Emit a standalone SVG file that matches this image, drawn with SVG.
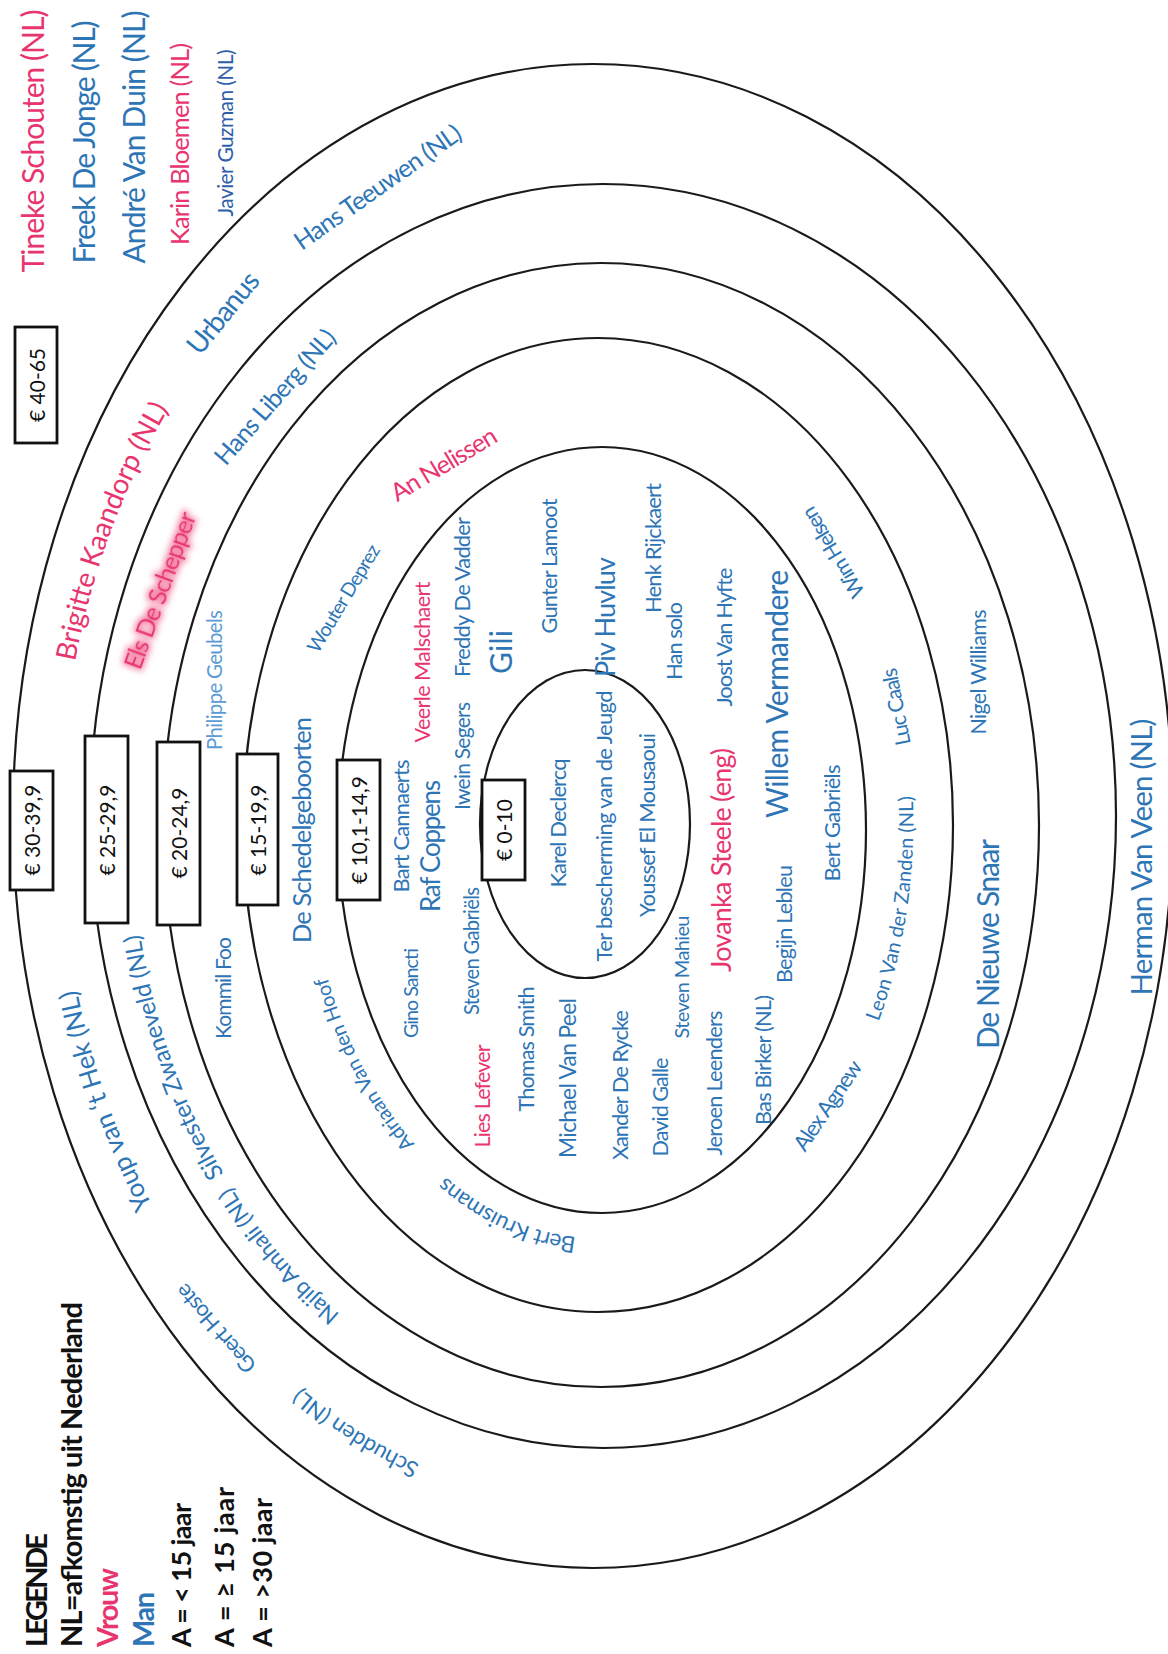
<svg xmlns="http://www.w3.org/2000/svg" width="1168" height="1654" viewBox="0 0 1168 1654">
<defs>
<style>
text{font-family:Lato,'Liberation Sans',sans-serif;text-anchor:middle;dominant-baseline:central}
.b{fill:#2e75b6}
.d{fill:#2f5ea8}
.l{fill:#5b9bd5}
.p{fill:#e8356f}
.k{fill:#111}
.lg{text-anchor:start;dominant-baseline:auto;font-weight:bold}
.ring{fill:none;stroke:#1a1a1a;stroke-width:2.2}
.box{fill:#fff;stroke:#111;stroke-width:2.8}
</style>
<filter id="glow" x="-30%" y="-40%" width="160%" height="180%">
<feMorphology in="SourceAlpha" operator="dilate" radius="1.5" result="d"/>
<feGaussianBlur in="d" stdDeviation="3" result="bl"/>
<feFlood flood-color="#f47aa0" flood-opacity="0.9"/>
<feComposite in2="bl" operator="in" result="g"/>
<feMerge><feMergeNode in="g"/><feMergeNode in="SourceGraphic"/></feMerge>
</filter>
<path id="pYoup" d="M 167.6 1251.6 A 549.5 696.3 0 0 1 59.0 944.2"/>
<path id="pSilv" d="M 255.8 1239.2 A 478.2 601.1 0 0 1 122.9 863.4"/>
<path id="pBrig" d="M 53.8 732.1 A 550.8 697.9 0 0 1 199.8 342.5"/>
<path id="pAdri" d="M 444.0 1184.1 A 302.0 422.9 0 0 1 308.1 930.7"/>
<path id="pLeon" d="M 852.6 1062.4 A 305.4 427.6 0 0 0 900.9 749.2"/>
<path id="pNaj" d="M 386.1 1359.1 A 477.8 600.6 0 0 1 192.2 1134.9"/>
<path id="pBert" d="M 622.8 1246.4 A 304.0 425.6 0 0 1 405.8 1149.5"/>
<path id="pSchu" d="M 481.0 1496.3 A 545.4 691.0 0 0 1 245.1 1346.7"/>
</defs>
<rect width="1168" height="1654" fill="#fff"/>

<g id="rings">
<ellipse class="ring" cx="585" cy="824" rx="105" ry="154"/>
<ellipse class="ring" cx="602" cy="830" rx="264" ry="383"/>
<ellipse class="ring" cx="598" cy="825" rx="355" ry="487"/>
<ellipse class="ring" cx="601" cy="825" rx="438" ry="562"/>
<ellipse class="ring" cx="603" cy="816" rx="513" ry="632"/>
<ellipse class="ring" cx="593" cy="816" rx="580" ry="752"/>
</g>

<g id="price-boxes">
<g id="box-40-65"><rect class="box" x="15" y="327" width="42" height="116"/><text class="k" font-size="21" transform="translate(36 385) rotate(-90)">€ 40-65</text></g>
<g id="box-30-39"><rect class="box" x="10" y="771" width="43" height="119"/><text class="k" font-size="21" transform="translate(31.5 830) rotate(-90)">€ 30-39,9</text></g>
<g id="box-25-29"><rect class="box" x="85" y="736" width="43" height="187"/><text class="k" font-size="21" transform="translate(106.5 830) rotate(-90)">€ 25-29,9</text></g>
<g id="box-20-24"><rect class="box" x="157" y="742" width="43" height="183"/><text class="k" font-size="21" transform="translate(178.5 833) rotate(-90)">€ 20-24,9</text></g>
<g id="box-15-19"><rect class="box" x="237" y="754" width="41" height="151"/><text class="k" font-size="21" transform="translate(257.5 830) rotate(-90)">€ 15-19,9</text></g>
<g id="box-10-14"><rect class="box" x="337" y="760" width="43" height="140"/><text class="k" font-size="21" transform="translate(358.5 830) rotate(-90)">€ 10,1-14,9</text></g>
<g id="box-0-10"><rect class="box" x="482" y="780" width="43" height="100"/><text class="k" font-size="21" transform="translate(503.5 830) rotate(-90)">€ 0-10</text></g>
</g>

<g id="outside">
<text class="p" font-size="30" textLength="263" transform="translate(32 141) rotate(-90)">Tineke Schouten (NL)</text>
<text class="b" font-size="30" textLength="243" transform="translate(83 142) rotate(-90)">Freek De Jonge (NL)</text>
<text class="b" font-size="30" textLength="253" transform="translate(133 137) rotate(-90)">André Van Duin (NL)</text>
<text class="p" font-size="25.5" textLength="202" transform="translate(179 144) rotate(-90)">Karin Bloemen (NL)</text>
<text class="d" font-size="21" textLength="167" transform="translate(224 133) rotate(-90)">Javier Guzman (NL)</text>
</g>

<g id="ring-30-39">
<text class="p" font-size="28"><textPath href="#pBrig" startOffset="50%">Brigitte Kaandorp (NL)</textPath></text>
<text class="b" font-size="28" textLength="97" transform="translate(222 312) rotate(-51)">Urbanus</text>
<text class="b" font-size="25" textLength="198" transform="translate(377 186) rotate(-35)">Hans Teeuwen (NL)</text>
<text class="b" font-size="26"><textPath href="#pYoup" startOffset="50%">Youp van ‘t Hek (NL)</textPath></text>
<text class="b" font-size="22" textLength="110" transform="translate(215 1329) rotate(-131)">Geert Hoste</text>
<text class="b" font-size="22.5"><textPath href="#pSchu" startOffset="50%">Schudden (NL)</textPath></text>
<text class="b" font-size="29.5" textLength="277" transform="translate(1140 857) rotate(-90)">Herman Van Veen (NL)</text>
</g>

<g id="ring-25-29">
<text class="p" font-size="25" textLength="165" filter="url(#glow)" transform="translate(159 590) rotate(-70)">Els De Schepper</text>
<text class="b" font-size="25" textLength="170" transform="translate(274 396) rotate(-49)">Hans Liberg (NL)</text>
<text class="b" font-size="24"><textPath href="#pSilv" startOffset="50%">Silvester Zwaneveld (NL)</textPath></text>
<text class="b" font-size="22.5"><textPath href="#pNaj" startOffset="50%">Najib Amhali (NL)</textPath></text>
</g>

<g id="ring-20-24">
<text class="l" font-size="20.5" textLength="140" transform="translate(214 680) rotate(-90)">Philippe Geubels</text>
<text class="b" font-size="21" textLength="102" transform="translate(222 988) rotate(-90)">Kommil Foo</text>
<text class="b" font-size="21.5" textLength="125" transform="translate(978 672) rotate(-90)">Nigel Williams</text>
<text class="b" font-size="30" textLength="210" transform="translate(987 944) rotate(-90)">De Nieuwe Snaar</text>
</g>

<g id="ring-15-19">
<text class="b" font-size="25.5" textLength="226" transform="translate(301 830) rotate(-90)">De Schedelgeboorten</text>
<text class="b" font-size="19.6" textLength="122" transform="translate(343 598) rotate(-59)">Wouter Deprez</text>
<text class="p" font-size="25" textLength="119" transform="translate(443 463) rotate(-31)">An Nelissen</text>
<text class="b" font-size="20"><textPath href="#pAdri" startOffset="50%">Adriaan Van den Hoof</textPath></text>
<text class="b" font-size="22.5"><textPath href="#pBert" startOffset="50%">Bert Kruismans</textPath></text>
<text class="b" font-size="20"><textPath href="#pLeon" startOffset="50%">Leon Van der Zanden (NL)</textPath></text>
<text class="b" font-size="22" textLength="104" transform="translate(827 1105) rotate(-56)">Alex Agnew</text>
<text class="b" font-size="21" textLength="78" transform="translate(895 707) rotate(-101)">Luc Caals</text>
<text class="b" font-size="21" textLength="102" transform="translate(832 553) rotate(-121)">Wim Helsen</text>
</g>

<g id="ring-10-14">
<text class="b" font-size="22" textLength="133" transform="translate(400 826) rotate(-90)">Bart Cannaerts</text>
<text class="b" font-size="26" textLength="132" transform="translate(430 846) rotate(-90)">Raf Coppens</text>
<text class="b" font-size="21" textLength="108" transform="translate(461 756) rotate(-90)">Iwein Segers</text>
<text class="b" font-size="20.2" textLength="128" transform="translate(471 951) rotate(-90)">Steven Gabriëls</text>
<text class="b" font-size="19.6" textLength="90" transform="translate(410 993) rotate(-90)">Gino Sancti</text>
<text class="p" font-size="21.5" textLength="103" transform="translate(482 1096) rotate(-90)">Lies Lefever</text>
<text class="b" font-size="21.6" textLength="125" transform="translate(526 1049) rotate(-90)">Thomas Smith</text>
<text class="b" font-size="22.8" textLength="160" transform="translate(567 1078) rotate(-90)">Michael Van Peel</text>
<text class="b" font-size="22" textLength="150" transform="translate(619 1085) rotate(-90)">Xander De Rycke</text>
<text class="b" font-size="21.6" textLength="99" transform="translate(660 1107) rotate(-90)">David Galle</text>
<text class="b" font-size="20" textLength="123" transform="translate(681 977) rotate(-90)">Steven Mahieu</text>
<text class="b" font-size="21.8" textLength="145" transform="translate(713 1083) rotate(-90)">Jeroen Leenders</text>
<text class="p" font-size="27" textLength="224" transform="translate(720 860) rotate(-90)">Jovanka Steele (eng)</text>
<text class="b" font-size="21.8" textLength="130" transform="translate(762 1060) rotate(-90)">Bas Birker (NL)</text>
<text class="b" font-size="21.7" textLength="118" transform="translate(784 924) rotate(-90)">Begijn Lebleu</text>
<text class="b" font-size="22" textLength="117" transform="translate(831 823) rotate(-90)">Bert Gabriëls</text>
<text class="b" font-size="30" textLength="248" transform="translate(776 694) rotate(-90)">Willem Vermandere</text>
<text class="b" font-size="22" textLength="139" transform="translate(723 637) rotate(-90)">Joost Van Hyfte</text>
<text class="b" font-size="22" textLength="78" transform="translate(673 641) rotate(-90)">Han solo</text>
<text class="b" font-size="22" textLength="130" transform="translate(652 548) rotate(-90)">Henk Rijckaert</text>
<text class="b" font-size="27" textLength="120" transform="translate(604 617) rotate(-90)">Piv Huvluv</text>
<text class="b" font-size="21.9" textLength="135" transform="translate(548 566) rotate(-90)">Gunter Lamoot</text>
<text class="b" font-size="30" textLength="44" transform="translate(500 652) rotate(-90)">Gili</text>
<text class="b" font-size="21.9" textLength="160" transform="translate(461 597) rotate(-90)">Freddy De Vadder</text>
<text class="p" font-size="21.7" textLength="161" transform="translate(422 662) rotate(-90)">Veerle Malschaert</text>
</g>

<g id="ring-0-10">
<text class="b" font-size="22" textLength="129" transform="translate(557 823) rotate(-90)">Karel Declercq</text>
<text class="b" font-size="22" textLength="271" transform="translate(603 826) rotate(-90)">Ter bescherming van de Jeugd</text>
<text class="b" font-size="22" textLength="184" transform="translate(646 825) rotate(-90)">Youssef El Mousaoui</text>
</g>

<g id="legend">
<text class="k lg" font-size="29" textLength="114" transform="translate(47 1647) rotate(-90)">LEGENDE</text>
<text class="k lg" font-size="29" textLength="345" transform="translate(82 1647) rotate(-90)">NL=afkomstig uit Nederland</text>
<text class="p lg" font-size="29" textLength="79" transform="translate(118 1647) rotate(-90)">Vrouw</text>
<text class="b lg" font-size="29" textLength="55" transform="translate(154 1647) rotate(-90)">Man</text>
<text class="k lg" font-size="27" textLength="144" transform="translate(191 1647) rotate(-90)">A = &lt; 15 jaar</text>
<text class="k lg" font-size="27" textLength="160" transform="translate(234 1647) rotate(-90)">A = ≥ 15 jaar</text>
<text class="k lg" font-size="27" textLength="149" transform="translate(272 1647) rotate(-90)">A = &gt;30 jaar</text>
</g>
</svg>
